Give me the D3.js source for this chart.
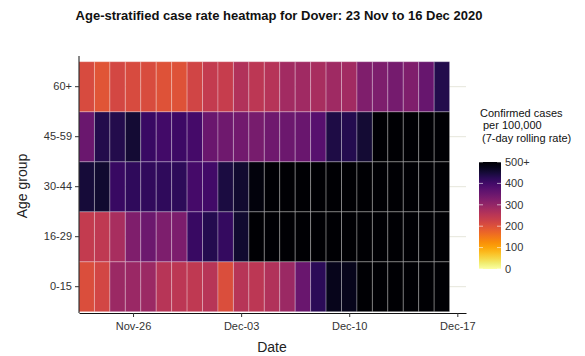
<!DOCTYPE html>
<html><head><meta charset="utf-8">
<script src="https://cdn.jsdelivr.net/npm/d3@7"></script>
<style>
body{margin:0;background:#fff;}
svg{font-family:"Liberation Sans",Arial,sans-serif;}
</style></head>
<body><svg id="c" width="585" height="356"></svg>
<script>
const startDate = "2020-11-23";
const nDays = 24;
const ageGroups = ["0-15","16-29","30-44","45-59","60+"];
const rate60 = [210,195,215,210,208,198,198,220,240,236,262,250,256,282,285,275,286,282,325,328,336,326,355,435];
const rate45 = [350,435,435,455,410,400,405,395,350,345,340,335,345,348,352,375,440,432,455,540,585,620,660,700];
const rate30 = [450,458,412,420,418,420,422,395,400,445,458,490,520,560,600,640,660,690,720,750,780,800,830,850];
const rate16 = [240,245,275,325,348,328,330,412,432,415,458,520,560,600,630,660,690,720,740,760,790,810,830,850];
const rate0  = [205,218,290,292,290,255,250,245,255,205,255,250,262,290,352,425,475,475,520,560,600,640,680,720];
const legendBreaks = [0,100,200,300,400,500];
const legendLabels = ["0","100","200","300","400","500+"];
const xTickDates = ["2020-11-26","2020-12-03","2020-12-10","2020-12-17"];

const seriesByGroup = {"0-15":rate0,"16-29":rate16,"30-44":rate30,"45-59":rate45,"60+":rate60};
const parse = d3.utcParse("%Y-%m-%d");
const d0 = parse(startDate);
const dates = d3.range(nDays).map(i => d3.utcDay.offset(d0, i));
const cells = [];
ageGroups.forEach(g => seriesByGroup[g].forEach((v,i) => cells.push({group:g, date:dates[i], value:v})));

const svg = d3.select("#c");
const x = d3.scaleUtc()
  .domain([new Date(Date.UTC(2020,10,22,12)), new Date(Date.UTC(2020,11,17,13,30))])
  .range([79, 466]);
const y = d3.scaleBand().domain(ageGroups).range([311.7, 61.7]).padding(0);
const color = v => d3.interpolateInferno(1 - Math.max(0, Math.min(500, v)) / 500);

// grid lines (horizontal)
svg.append("g").selectAll("line").data(ageGroups).join("line")
  .attr("x1", 79).attr("x2", 466)
  .attr("y1", d => y(d) + y.bandwidth()/2).attr("y2", d => y(d) + y.bandwidth()/2)
  .attr("stroke", "#e6e6da").attr("stroke-width", 1);

// tiles
const halfDay = 12*3600*1000;
svg.append("g").selectAll("rect").data(cells).join("rect")
  .attr("x", d => x(new Date(+d.date - halfDay)))
  .attr("width", d => x(new Date(+d.date + halfDay)) - x(new Date(+d.date - halfDay)))
  .attr("y", d => y(d.group))
  .attr("height", y.bandwidth())
  .attr("fill", d => color(d.value))
  .attr("stroke", "rgba(255,255,255,0.28)")
  .attr("stroke-width", 1);

// axes
const xAxis = d3.axisBottom(x).tickValues(xTickDates.map(parse)).tickFormat(d3.utcFormat("%b-%d")).tickSize(4).tickSizeOuter(0);
const gx = svg.append("g").attr("transform", "translate(0,313)").call(xAxis);
gx.select(".domain").attr("stroke", "#111");
gx.selectAll(".tick line").attr("stroke", "#333");
gx.selectAll("text").attr("font-size", 11).attr("fill", "#333").attr("font-family", "Liberation Sans, Arial, sans-serif").attr("dy", "0.9em");

const yAxis = d3.axisLeft(y).tickSize(4).tickSizeOuter(0);
const gy = svg.append("g").attr("transform", "translate(79,0)").call(yAxis);
gy.select(".domain").attr("d", "M0,56V313").attr("stroke", "#111");
gy.selectAll(".tick line").attr("stroke", "#333");
gy.selectAll("text").attr("font-size", 11).attr("fill", "#333").attr("font-family", "Liberation Sans, Arial, sans-serif");

// titles
svg.append("text").attr("x", 279).attr("y", 20).attr("text-anchor", "middle")
  .attr("font-size", 13).attr("font-weight", "bold").attr("fill", "#111")
  .text("Age-stratified case rate heatmap for Dover: 23 Nov to 16 Dec 2020");
svg.append("text").attr("x", 272).attr("y", 352).attr("text-anchor", "middle")
  .attr("font-size", 14).attr("fill", "#222").text("Date");
svg.append("text").attr("transform", "translate(27,186) rotate(-90)").attr("text-anchor", "middle")
  .attr("font-size", 14).attr("fill", "#222").text("Age group");

// legend
const lg = svg.append("g");
const titleLines = [["Confirmed cases",480,117],["per 100,000",483,129],["(7-day rolling rate)",482,142]];
lg.selectAll("text.t").data(titleLines).join("text").attr("class","t")
  .attr("x", d => d[1]).attr("y", d => d[2]).attr("font-size", 11).attr("fill", "#111").text(d => d[0]);

const ly = d3.scaleLinear().domain([0, 500]).range([269, 162]);
const defs = svg.append("defs");
const grad = defs.append("linearGradient").attr("id", "lgrad").attr("x1", 0).attr("y1", 1).attr("x2", 0).attr("y2", 0);
d3.range(0, 1.0001, 0.05).forEach(t => grad.append("stop").attr("offset", t).attr("stop-color", color(t*500)));
lg.append("rect").attr("x", 479).attr("y", ly(500)).attr("width", 22).attr("height", ly(0) - ly(500)).attr("fill", "url(#lgrad)");
lg.selectAll("line.l").data(legendBreaks).join("line").attr("class","l")
  .attr("x1", 479).attr("x2", 483).attr("y1", d => ly(d)).attr("y2", d => ly(d))
  .attr("stroke", "rgba(255,255,255,0.6)");
lg.selectAll("line.r").data(legendBreaks).join("line").attr("class","r")
  .attr("x1", 497).attr("x2", 501).attr("y1", d => ly(d)).attr("y2", d => ly(d))
  .attr("stroke", "rgba(255,255,255,0.6)");
lg.selectAll("text.b").data(legendBreaks).join("text").attr("class","b")
  .attr("x", 505).attr("y", d => ly(d)).attr("dy", "0.35em")
  .attr("font-size", 11).attr("fill", "#333").text((d,i) => legendLabels[i]);
</script></body></html>
